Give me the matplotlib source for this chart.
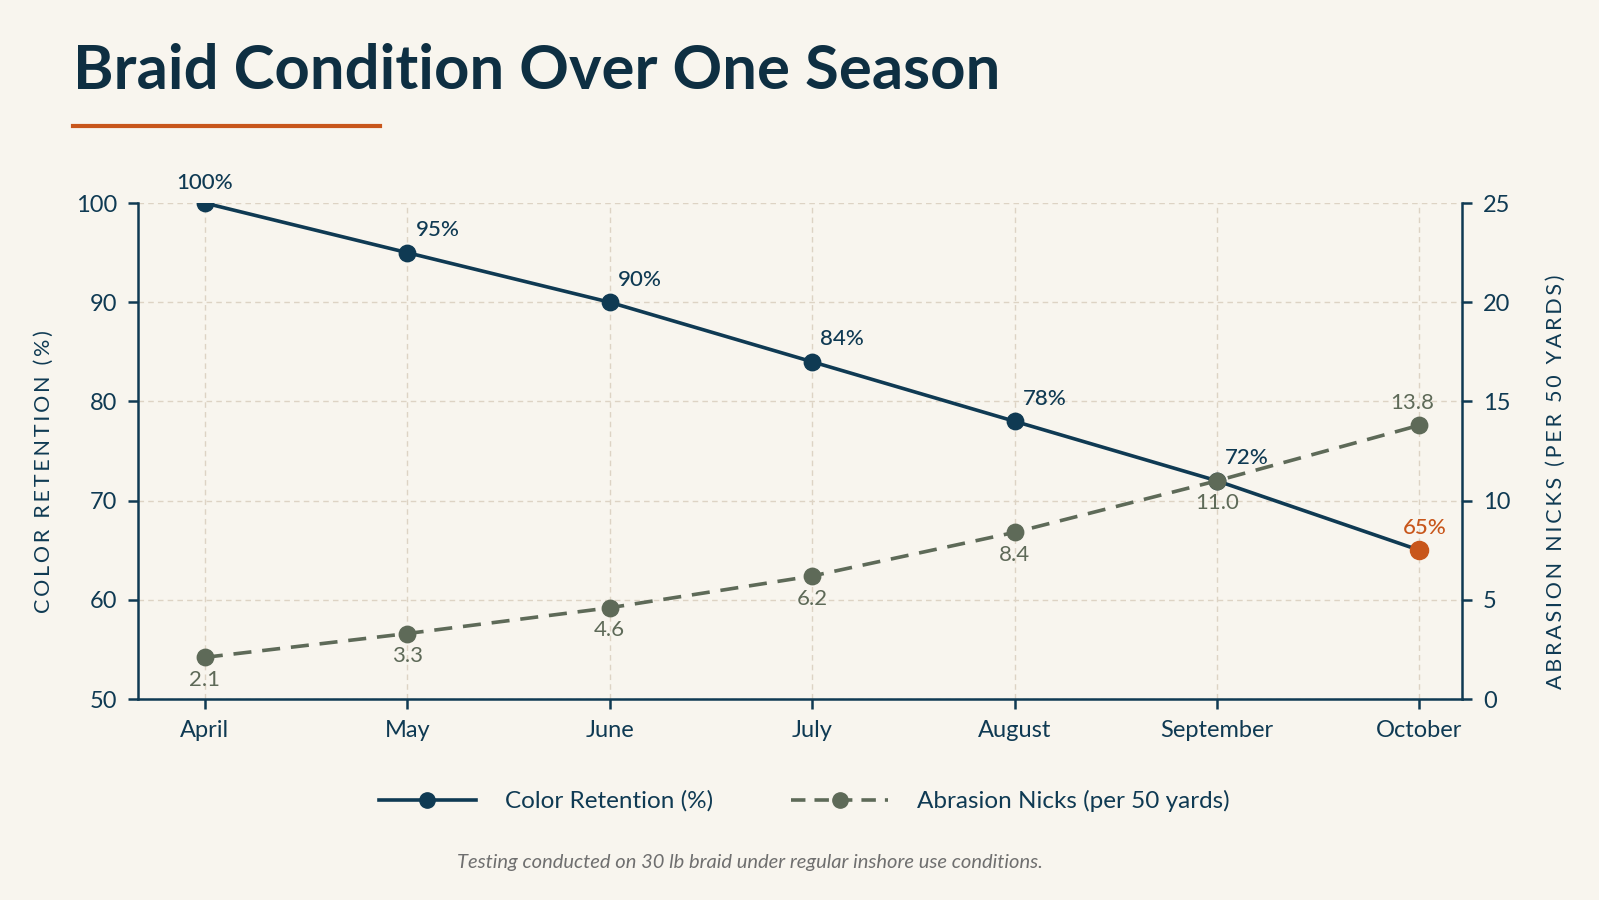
import matplotlib
matplotlib.use("Agg")
import matplotlib.pyplot as plt
from matplotlib.lines import Line2D

# Data
months = ["April", "May", "June", "July", "August", "September", "October"]
color_retention = [100, 95, 90, 84, 78, 72, 65]
abrasion_nicks = [2.1, 3.3, 4.6, 6.2, 8.4, 11.0, 13.8]

BG = "#f8f5ee"
NAVY = "#0f3a53"
TITLE = "#0e2f42"
SAGE = "#5e6a58"
ORANGE = "#c8561b"
GRID = "#ddd3c4"

plt.rcParams["font.family"] = ["Lato", "DejaVu Sans"]


def spaced(text):
    # light letter-spacing for the axis titles
    return "\u2009".join(text)


fig = plt.figure(figsize=(15.99, 9), dpi=100, facecolor=BG)
ax = fig.add_axes([0.0863, 0.2233, 0.828, 0.5511])
ax.set_facecolor(BG)
ax2 = ax.twinx()

x = list(range(len(months)))

# Color retention (left axis)
ax.plot(x, color_retention, color=NAVY, lw=2.6, zorder=3)
ax.scatter(x[:-1], color_retention[:-1], s=140, color=NAVY, zorder=4)
ax.scatter(x[-1:], color_retention[-1:], s=170, color=ORANGE, zorder=4)

for i, v in enumerate(color_retention):
    if i == 0:
        ax.annotate(f"{v}%", (i, v), xytext=(0, 7), textcoords="offset points",
                    ha="center", va="bottom", fontsize=16, color=NAVY, fontweight="medium")
    elif i == len(color_retention) - 1:
        ax.annotate(f"{v}%", (i, v), xytext=(4, 9), textcoords="offset points",
                    ha="center", va="bottom", fontsize=16, color=ORANGE, fontweight="medium")
    else:
        ax.annotate(f"{v}%", (i, v), xytext=(6, 9), textcoords="offset points",
                    ha="left", va="bottom", fontsize=16, color=NAVY, fontweight="medium")

# Abrasion nicks (right axis)
ax2.plot(x, abrasion_nicks, color=SAGE, lw=2.6, ls=(0, (5, 3)), zorder=3)
ax2.scatter(x, abrasion_nicks, s=140, color=SAGE, zorder=4)
for i, v in enumerate(abrasion_nicks):
    if i == len(abrasion_nicks) - 1:
        ax2.annotate(f"{v:.1f}", (i, v), xytext=(-5, 9), textcoords="offset points",
                     ha="center", va="bottom", fontsize=16, color=SAGE)
    else:
        ax2.annotate(f"{v:.1f}", (i, v), xytext=(0, -9), textcoords="offset points",
                     ha="center", va="top", fontsize=16, color=SAGE)

ax.set_xlim(-0.33, 6.21)
ax.set_ylim(50, 100)
ax2.set_ylim(0, 25)
ax.set_yticks([50, 60, 70, 80, 90, 100])
ax2.set_yticks([0, 5, 10, 15, 20, 25])
ax.set_xticks(x)
ax.set_xticklabels(months)

ax.grid(True, color=GRID, ls=(0, (4, 3)), lw=1)
ax.set_axisbelow(True)

for a in (ax, ax2):
    a.spines["top"].set_visible(False)
    for s in ("left", "right", "bottom"):
        a.spines[s].set_color(NAVY)
        a.spines[s].set_linewidth(1.8)
    a.tick_params(colors=NAVY, labelsize=17, length=7, width=1.8, pad=8)
ax.spines["right"].set_visible(False)
ax2.spines["left"].set_visible(False)
ax2.spines["bottom"].set_visible(False)

ax.set_ylabel(spaced("COLOR RETENTION (%)"), fontsize=15.5, color=NAVY)
ax.yaxis.set_label_coords(-0.0634, 0.458)
ax2.set_ylabel(spaced("ABRASION NICKS (PER 50 YARDS)"), fontsize=15.5, color=NAVY, rotation=90)
ax2.yaxis.set_label_coords(1.0634, 0.438)

# Title and accent rule
fig.text(0.0456, 0.921, "Braid Condition Over One Season", fontsize=44.4,
         fontweight="bold", color=TITLE, ha="left", va="center")
fig.add_artist(Line2D([0.0456, 0.2376], [0.86, 0.86], color=ORANGE, lw=3))

# Legend
handles = [
    Line2D([], [], color=NAVY, lw=2.6, marker="o", markersize=11),
    Line2D([], [], color=SAGE, lw=2.6, ls=(0, (4, 2.5)), marker="o", markersize=11),
]
fig.legend(handles, ["Color Retention (%)", "Abrasion Nicks (per 50 yards)"],
           loc="center", bbox_to_anchor=(0.503, 0.11), ncol=2, frameon=False,
           fontsize=17.5, handlelength=4.0, handletextpad=1.2, columnspacing=3.2,
           labelcolor=NAVY)

fig.text(0.469, 0.042, "Testing conducted on 30 lb braid under regular inshore use conditions.",
         fontsize=14.5, style="italic", color="#6f6f6f", ha="center", va="center")

fig.savefig("out.png", dpi=100, facecolor=BG)
